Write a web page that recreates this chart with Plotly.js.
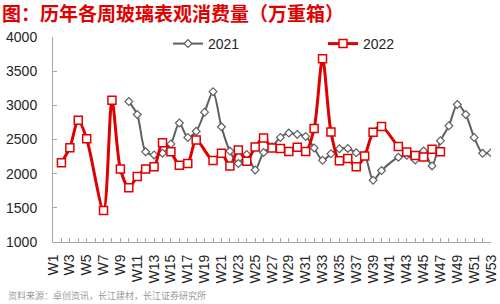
<!DOCTYPE html>
<html>
<head>
<meta charset="utf-8">
<script src="https://cdn.plot.ly/plotly-3.0.1.min.js"></script>
<style>html,body{margin:0;padding:0;background:#fff;}#chart{width:500px;height:304px;}</style>
</head>
<body>
<div id="chart"></div>
<script>
var weeks = [];
for (var i = 1; i <= 53; i++) weeks.push('W' + i);

var series2021 = [null,null,null,null,null,null,null,null,null,
  3055,2866,2320,2275,2300,2435,2740,2530,2620,2900,3200,
  2685,2330,2150,2280,2055,2310,2395,2530,2595,2575,
  2545,2375,2195,2290,2365,2370,2305,2268,1905,2045,
  null,2240,2270,2200,2332,2114,2483,2700,3011,2866,
  2530,2297,2305];

var series2022 = [null,2160,2380,2780,2510,null,1460,3075,2068,1795,
  1960,2070,2102,2452,2320,2124,2150,2492,null,2192,
  2300,2114,2348,2181,2391,2522,2375,2370,2324,2386,
  2325,2660,3680,2610,2188,2222,2100,2260,2605,2692,
  null,2396,2318,2265,2245,2356,2319,null,null,null,
  null,null,null];

var tickText = weeks.map(function (w, i) { return i % 2 === 0 ? w : ''; });

var latin = 'Liberation Sans, Arial, sans-serif';
var cjk = 'Noto Sans CJK SC, sans-serif';
var red = '#e00000';
var grey = '#5f5f5f';

var L = 53, R = 491, T = 37, B = 242;
function px(x) { return (x - L) / (R - L); }
function py(y) { return (B - y) / (B - T); }

var traces = [
  {
    x: weeks, y: series2021, name: '2021', type: 'scatter', mode: 'lines+markers',
    connectgaps: true,
    line: {color: grey, width: 2, shape: 'spline', smoothing: 0.8},
    marker: {symbol: 'diamond', size: 6, color: '#ffffff', line: {color: grey, width: 1.2}},
    legend: 'legend'
  },
  {
    x: weeks, y: series2022, name: '2022', type: 'scatter', mode: 'lines+markers',
    connectgaps: true,
    line: {color: red, width: 3, shape: 'spline', smoothing: 0.8},
    marker: {symbol: 'square', size: 8, color: '#ffffff', line: {color: red, width: 1.5}},
    legend: 'legend2'
  }
];

var layout = {
  width: 500, height: 304,
  margin: {l: L, r: 500 - R, t: T, b: 304 - B, pad: 0, autoexpand: false},
  paper_bgcolor: '#ffffff', plot_bgcolor: '#ffffff',
  font: {family: latin, size: 14, color: '#262626'},
  title: {
    text: '<b>图：历年各周玻璃表观消费量（万重箱）</b>',
    font: {family: cjk, size: 19, color: red},
    x: 0.004, xanchor: 'left', xref: 'container',
    y: 1 - 14 / 304, yanchor: 'middle', yref: 'container'
  },
  xaxis: {
    type: 'category', range: [0, 52],
    tickmode: 'array', tickvals: weeks, ticktext: tickText,
    tickangle: -90, ticks: 'inside', ticklen: 4, tickcolor: '#a6a6a6',
    showline: true, linecolor: '#a6a6a6', linewidth: 1,
    showgrid: false, zeroline: false,
    tickfont: {family: latin, size: 14, color: '#262626'},
    ticklabelstandoff: 6, automargin: false
  },
  yaxis: {
    range: [1000, 4000], dtick: 500, tick0: 1000,
    ticks: 'inside', ticklen: 4, tickcolor: '#a6a6a6',
    showline: true, linecolor: '#a6a6a6', linewidth: 1,
    showgrid: false, zeroline: false,
    tickfont: {family: latin, size: 14, color: '#262626'},
    ticklabelstandoff: 12, automargin: false
  },
  legend: {
    x: px(168), xanchor: 'left',
    y: py(44), yanchor: 'middle',
    bgcolor: 'rgba(0,0,0,0)', font: {family: latin, size: 14, color: '#262626'},
    itemwidth: 30
  },
  legend2: {
    x: px(323), xanchor: 'left',
    y: py(44), yanchor: 'middle',
    bgcolor: 'rgba(0,0,0,0)', font: {family: latin, size: 14, color: '#262626'},
    itemwidth: 30
  },
  showlegend: true,
  annotations: [{
    text: '资料来源：卓创资讯，长江建材，长江证券研究所',
    xref: 'paper', yref: 'paper', showarrow: false,
    x: px(6), xanchor: 'left',
    y: py(295), yanchor: 'middle',
    font: {family: cjk, size: 9, color: '#9a9a9a'}
  }]
};

Plotly.newPlot('chart', traces, layout, {displayModeBar: false, staticPlot: true});
</script>
</body>
</html>
